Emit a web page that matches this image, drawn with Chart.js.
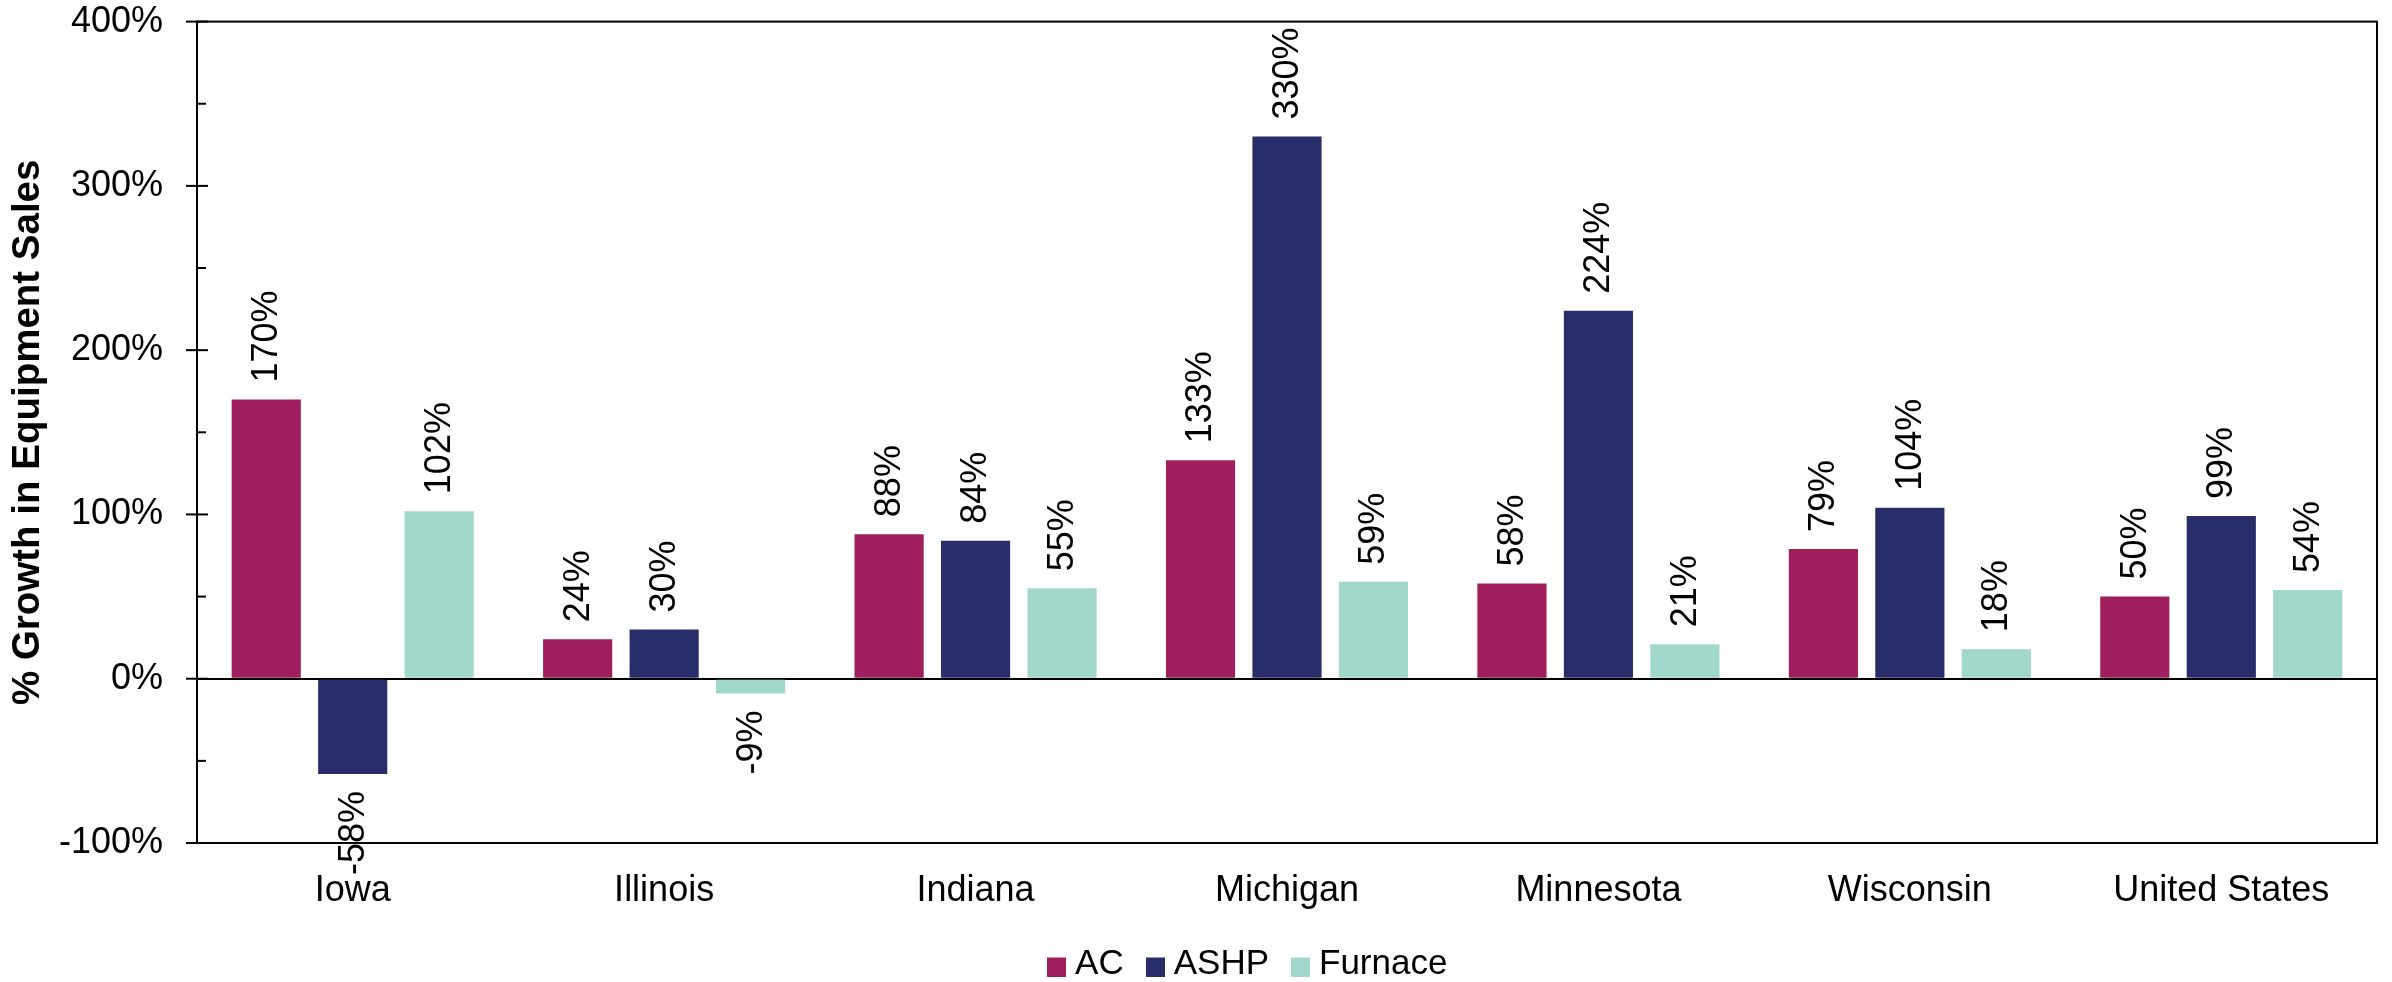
<!DOCTYPE html>
<html>
<head>
<meta charset="utf-8">
<title>% Growth in Equipment Sales</title>
<script src="https://cdn.jsdelivr.net/npm/chart.js@4/dist/chart.umd.min.js"></script>
<style>
  html, body { margin: 0; padding: 0; background: #ffffff; }
  canvas { display: block; }
</style>
</head>
<body>
<canvas id="chart" width="2392" height="982"></canvas>
<script>
// Regions and growth in equipment sales (%) by equipment type
const categories = ['Iowa', 'Illinois', 'Indiana', 'Michigan', 'Minnesota', 'Wisconsin', 'United States'];
const acGrowth = [170, 24, 88, 133, 58, 79, 50];
const ashpGrowth = [-58, 30, 84, 330, 224, 104, 99];
const furnaceGrowth = [102, -9, 55, 59, 21, 18, 54];
const seriesNames = ['AC', 'ASHP', 'Furnace'];
const seriesColors = ['#9E1F5C', '#282E6A', '#A2D8CB'];
const yMin = -100, yMax = 400, yMajorStep = 100, yMinorStep = 50;

const FONT = '"Liberation Sans", Arial, Helvetica, sans-serif';

// Legend swatches: square sitting slightly low against the text
function makeSwatch(color) {
  const c = document.createElement('canvas');
  c.width = 19; c.height = 25;
  const g = c.getContext('2d');
  g.fillStyle = color;
  g.fillRect(0, 6, 19, 19);
  return c;
}
const swatches = seriesColors.map(makeSwatch);

// Value labels written vertically beyond the end of each bar
const valueLabels = {
  id: 'valueLabels',
  afterDatasetsDraw(chart) {
    const ctx = chart.ctx;
    ctx.save();
    ctx.font = '36px ' + FONT;
    ctx.fillStyle = '#000';
    ctx.textBaseline = 'middle';
    chart.data.datasets.forEach((ds, di) => {
      chart.getDatasetMeta(di).data.forEach((bar, i) => {
        const v = ds.data[i];
        ctx.save();
        ctx.translate(bar.x + 1, v >= 0 ? bar.y - 17 : bar.y + 17);
        ctx.rotate(-Math.PI / 2);
        ctx.textAlign = v >= 0 ? 'left' : 'right';
        ctx.fillText(v + '%', 0, 0);
        ctx.restore();
      });
    });
    ctx.restore();
  }
};

// Plot frame and the value-axis tick marks: major ticks cross the axis,
// minor ticks point inward only
const plotFrame = {
  id: 'plotFrame',
  afterDraw(chart) {
    const { ctx, chartArea: a, scales: { y } } = chart;
    ctx.save();
    ctx.strokeStyle = '#000';
    ctx.lineWidth = 2;
    ctx.strokeRect(a.left, a.top, a.right - a.left, a.bottom - a.top);
    y.ticks.forEach(t => {
      const py = y.getPixelForValue(t.value);
      const major = t.value % yMajorStep === 0;
      ctx.beginPath();
      ctx.moveTo(major ? a.left - 11 : a.left, py);
      ctx.lineTo(a.left + (major ? 11 : 9), py);
      ctx.stroke();
    });
    ctx.restore();
  }
};

// The legend row sits a little left of the plot's centre
const legendShift = {
  id: 'legendShift',
  afterLayout(chart) {
    const lg = chart.legend;
    if (lg) { lg.right -= 71; lg.width -= 71; }
  }
};

const seriesData = [acGrowth, ashpGrowth, furnaceGrowth];

new Chart(document.getElementById('chart'), {
  type: 'bar',
  data: {
    labels: categories,
    datasets: seriesNames.map((name, i) => ({
      label: name,
      data: seriesData[i],
      backgroundColor: seriesColors[i],
      borderWidth: 0,
      categoryPercentage: 0.833,
      barPercentage: 0.80
    }))
  },
  options: {
    responsive: false,
    animation: false,
    devicePixelRatio: 1,
    layout: { padding: { top: 1.4, right: 15, bottom: 0, left: 0 } },
    scales: {
      x: {
        grid: { display: false, drawTicks: false },
        border: { display: true, color: '#000', width: 2 },
        ticks: {
          color: '#000',
          font: { family: FONT, size: 36 },
          padding: 26,
          maxRotation: 0,
          autoSkip: false
        },
        afterFit(scale) { scale.height = 73; }
      },
      y: {
        min: yMin,
        max: yMax,
        ticks: {
          stepSize: yMinorStep,
          color: '#000',
          font: { family: FONT, size: 36 },
          padding: 0,
          autoSkip: false,
          callback: v => (v % yMajorStep === 0 ? v + '%' : '')
        },
        grid: {
          drawOnChartArea: true,
          color: c => (c.tick && c.tick.value === 0 ? '#000' : 'rgba(0,0,0,0)'),
          lineWidth: 2,
          tickLength: 34,
          tickColor: 'rgba(0,0,0,0)'
        },
        border: { display: true, color: '#000', width: 2 },
        title: {
          display: true,
          text: '% Growth in Equipment Sales',
          color: '#000',
          font: { family: FONT, size: 38.5, weight: 'bold' },
          padding: { top: 5, bottom: 0 }
        },
        afterFit(scale) { scale.width = 197; }
      }
    },
    plugins: {
      legend: {
        position: 'bottom',
        fullSize: false,
        maxHeight: 66,
        labels: {
          color: '#000',
          font: { family: FONT, size: 35 },
          usePointStyle: true,
          pointStyleWidth: 2,
          padding: 30.5,
          generateLabels(chart) {
            const items = Chart.defaults.plugins.legend.labels.generateLabels(chart);
            items.forEach((it, i) => { it.pointStyle = swatches[i]; it.lineWidth = 0; });
            return items;
          }
        }
      },
      tooltip: { enabled: false }
    }
  },
  plugins: [valueLabels, plotFrame, legendShift]
});
</script>
</body>
</html>
